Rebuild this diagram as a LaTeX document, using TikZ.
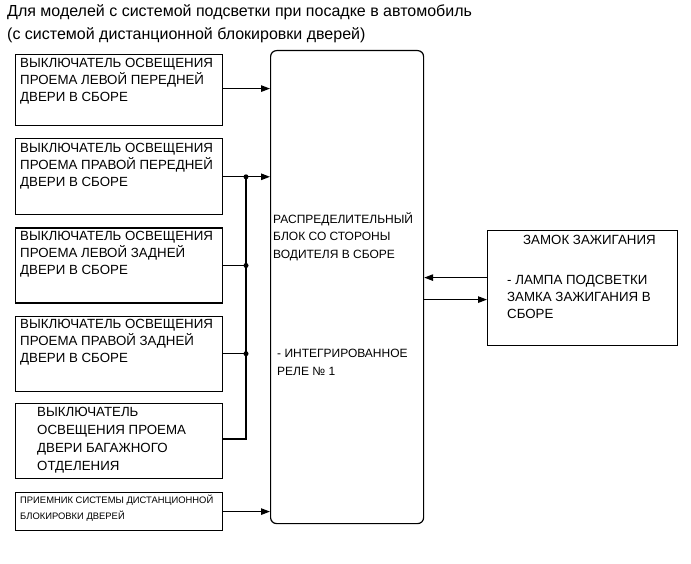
\documentclass[tikz,border=0pt]{standalone}
\usepackage{fontspec}
\setmainfont{Liberation Sans}
\usetikzlibrary{arrows.meta,positioning,calc}
\tikzset{
	switch/.style = {
		draw,
		rectangle,
		minimum width=207pt,
		line width=1.2pt,
		inner sep=0pt
	},
	boxtext/.style = {
		font=\fontsize{13.3}{17}\selectfont,
		align=left,
		anchor=north west,
		inner sep=0pt
	},
	signal/.style = {
		-{Triangle[length=9pt,width=6.5pt]},
		line width=1.2pt
	},
	wire/.style = {
		line width=1.2pt
	},
	branch/.style = {
		fill,
		circle,
		minimum size=5pt,
		inner sep=0pt
	}
}
\begin{document}
\begin{tikzpicture}[x=1pt, y=-1pt, node distance=12pt]
	\useasboundingbox (0,0) rectangle (691,564);
	
	% --- Заголовок ---
	\node[boxtext, font=\fontsize{16}{23}\selectfont] (title) at (7,4.5)
	{Для моделей с системой подсветки при посадке в автомобиль\\(с системой дистанционной блокировки дверей)};
	
	% --- Выключатели ---
	\node[switch, minimum height=71pt, anchor=north west] (sw1) at (15,54) {};
	\node[switch, minimum height=76pt, below=of sw1] (sw2) {};
	\node[switch, minimum height=75pt, below=of sw2] (sw3) {};
	\node[switch, minimum height=75pt, below=of sw3] (sw4) {};
	\node[switch, minimum height=75pt, below=11pt of sw4] (sw5) {};
	\node[switch, minimum height=38pt, below=13pt of sw5] (rx) {};
	
	\node[boxtext] (sw1txt) at ([xshift=5pt, yshift=-4pt]sw1.north west)
	{ВЫКЛЮЧАТЕЛЬ ОСВЕЩЕНИЯ\\ПРОЕМА ЛЕВОЙ ПЕРЕДНЕЙ\\ДВЕРИ В СБОРЕ};
	\node[boxtext] (sw2txt) at ([xshift=5pt, yshift=-4.5pt]sw2.north west)
	{ВЫКЛЮЧАТЕЛЬ ОСВЕЩЕНИЯ\\ПРОЕМА ПРАВОЙ ПЕРЕДНЕЙ\\ДВЕРИ В СБОРЕ};
	\node[boxtext] (sw3txt) at ([xshift=5pt, yshift=-4pt]sw3.north west)
	{ВЫКЛЮЧАТЕЛЬ ОСВЕЩЕНИЯ\\ПРОЕМА ЛЕВОЙ ЗАДНЕЙ\\ДВЕРИ В СБОРЕ};
	\node[boxtext] (sw4txt) at ([xshift=5pt, yshift=-3pt]sw4.north west)
	{ВЫКЛЮЧАТЕЛЬ ОСВЕЩЕНИЯ\\ПРОЕМА ПРАВОЙ ЗАДНЕЙ\\ДВЕРИ В СБОРЕ};
	\node[boxtext, font=\fontsize{13.3}{17.8}\selectfont] (sw5txt) at ([xshift=22pt, yshift=-4.5pt]sw5.north west)
	{ВЫКЛЮЧАТЕЛЬ\\ОСВЕЩЕНИЯ ПРОЕМА\\ДВЕРИ БАГАЖНОГО\\ОТДЕЛЕНИЯ};
	\node[boxtext, font=\fontsize{9.4}{16.5}\selectfont] (rxtxt) at ([xshift=5pt, yshift=-2.5pt]rx.north west)
	{ПРИЕМНИК СИСТЕМЫ ДИСТАНЦИОННОЙ\\БЛОКИРОВКИ ДВЕРЕЙ};
	
	% --- Распределительный блок ---
	\node[draw, line width=1.2pt, rounded corners=6pt, minimum width=153pt, minimum height=473pt, anchor=north west] (blk) at (270,50) {};
	\node[boxtext, font=\fontsize{12}{17.5}\selectfont] (blktxt) at (273,212)
	{РАСПРЕДЕЛИТЕЛЬНЫЙ\\БЛОК СО СТОРОНЫ\\ВОДИТЕЛЯ В СБОРЕ};
	\node[boxtext, font=\fontsize{12}{17.5}\selectfont] (relay) at (277,349)
	{- ИНТЕГРИРОВАННОЕ\\РЕЛЕ № 1};
	
	% --- Замок зажигания ---
	\node[draw, line width=1.2pt, minimum width=190pt, minimum height=115pt, anchor=north west] (ign) at (487,230) {};
	\node[boxtext] (igntitle) at (523,235) {ЗАМОК ЗАЖИГАНИЯ};
	\node[boxtext] (igntxt) at (507,275.5)
	{- ЛАМПА ПОДСВЕТКИ\\ЗАМКА ЗАЖИГАНИЯ В\\СБОРЕ};
	
	% --- Соединения ---
	\coordinate (bus) at (246,0);
	\draw[signal] ([yshift=1.5pt]sw1.east) -- ([yshift=1.5pt]sw1.east -| blk.west);
	\draw[signal] (sw2.east) -- (sw2.east -| blk.west);
	\draw[wire] (sw3.east) -- (sw3.east -| bus);
	\draw[wire] (sw4.east) -- (sw4.east -| bus);
	\draw[wire] ([yshift=2pt]sw5.east) -- ([yshift=2pt]sw5.east -| bus) -- (sw2.east -| bus);
	\node[branch] (j2) at (sw2.east -| bus) {};
	\node[branch] (j3) at (sw3.east -| bus) {};
	\node[branch] (j4) at (sw4.east -| bus) {};
	\draw[signal] (rx.east) -- (rx.east -| blk.west);
	
	\draw[signal] ([yshift=10.5pt]ign.west) -- ([yshift=10.5pt]ign.west -| blk.east);
	\draw[signal] ([yshift=-11.5pt]ign.west -| blk.east) -- ([yshift=-11.5pt]ign.west);
	
\end{tikzpicture}
\end{document}
